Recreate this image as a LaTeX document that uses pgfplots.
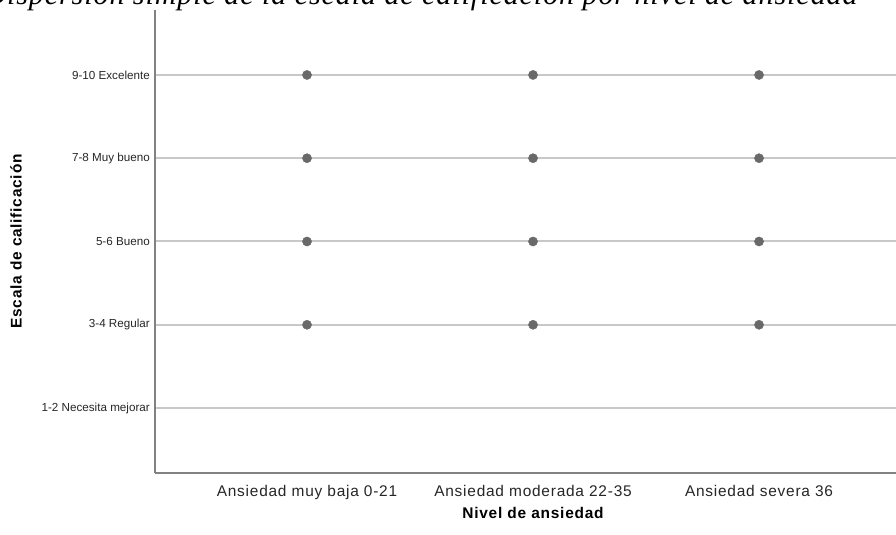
\documentclass[border=0pt]{standalone}
\usepackage{pgfplots}
\pgfplotsset{compat=1.18}
\usepackage{fontspec}
\setmainfont{Liberation Sans}
\newfontfamily\ytickfont{Liberation Sans}
\newfontfamily\lsfont{Liberation Sans}[LetterSpace=5]
\newfontfamily\titlefont{Liberation Serif}[LetterSpace=3.3]
\definecolor{gridc}{RGB}{200,200,200}
\definecolor{axc}{RGB}{130,130,130}
\definecolor{ptc}{RGB}{105,105,105}
\begin{document}
\begin{tikzpicture}
\path[use as bounding box] (0,0) rectangle (896bp,535bp);
\clip (0,0) rectangle (896bp,535bp);
\begin{axis}[
 at={(155bp,62bp)}, anchor=south west,
 scale only axis, width=741bp, height=463bp,
 xmin=-0.6726, xmax=2.606, ymin=0.22, ymax=5.78,
 axis x line*=bottom, axis y line*=left,
 axis line style={axc, line width=1.5bp, -},
 xtick={0,1,2},
 xticklabels={Ansiedad muy baja 0-21, Ansiedad moderada 22-35, Ansiedad severa 36},
 ytick={1,2,3,4,5},
 yticklabels={1-2 Necesita mejorar, 3-4 Regular, 5-6 Bueno, 7-8 Muy bueno, 9-10 Excelente},
 major tick length=0pt,
 ymajorgrids, major grid style={gridc, line width=2bp},
 xticklabel style={font=\fontsize{15.5}{17}\lsfont, anchor=north, inner sep=0pt, yshift=-12bp, text=black!85},
 yticklabel style={font=\fontsize{11.7}{13}\ytickfont, anchor=east, inner sep=0pt, xshift=-5bp, text=black!85},
 xlabel={Nivel de ansiedad}, ylabel={Escala de calificación},
 xlabel style={font=\fontsize{15.5}{17}\lsfont\bfseries, at={(axis description cs:0.5101,-0.0972)}, anchor=base, inner sep=0pt},
 ylabel style={font=\fontsize{15.5}{17}\lsfont\bfseries, at={(axis description cs:-0.1876,0.5)}, anchor=center, inner sep=0pt},
 clip=false,
]
\addplot[only marks, mark=*, mark size=4.6bp, mark options={fill=ptc, draw=ptc}] coordinates {
 (0,2) (0,3) (0,4) (0,5)
 (1,2) (1,3) (1,4) (1,5)
 (2,2) (2,3) (2,4) (2,5)
};
\end{axis}
\node[anchor=base, inner sep=0pt, font=\fontsize{30}{32}\titlefont\itshape] at (421bp,530bp) {Dispersión simple de la escala de calificación por nivel de ansiedad};
\end{tikzpicture}
\end{document}
